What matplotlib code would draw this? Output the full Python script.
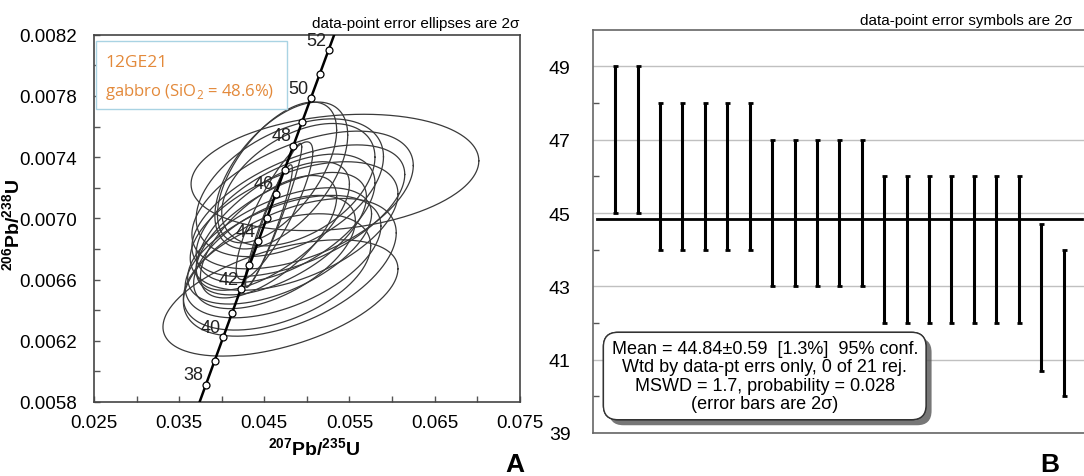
import numpy as np
import matplotlib
matplotlib.use("Agg")
import matplotlib.pyplot as plt
from matplotlib.patches import Rectangle
import matplotlib.patheffects as pe

plt.rcParams['font.family'] = ['Liberation Sans', 'DejaVu Sans']
plt.rcParams['mathtext.fontset'] = 'custom'
plt.rcParams['mathtext.rm'] = 'Open Sans'
plt.rcParams['mathtext.bf'] = 'Liberation Sans:bold'

# ---------------- Data: concordia ellipses (panel A) ----------------
# centre 207Pb/235U, centre 206Pb/238U, 2-sigma x, 2-sigma y, error correlation
ell_x = [0.0533, 0.0469, 0.0480, 0.0461, 0.0455, 0.0462, 0.0465, 0.0470, 0.0495, 0.0490, 0.0485,
         0.0480, 0.0475, 0.0470, 0.0468, 0.0472, 0.0460, 0.0455, 0.0462, 0.0490, 0.0465]
ell_y = [0.00730, 0.00648, 0.00668, 0.00702, 0.00695, 0.00705, 0.00730, 0.00728, 0.00712, 0.00705, 0.00695,
         0.00720, 0.00700, 0.00690, 0.00682, 0.00675, 0.00695, 0.00688, 0.00678, 0.00722, 0.00665]
ell_sx = [0.0169, 0.0138, 0.0125, 0.0033, 0.0028, 0.0045, 0.0070, 0.0078, 0.0130, 0.0125, 0.0122,
          0.0110, 0.0105, 0.0100, 0.0108, 0.0115, 0.0090, 0.0080, 0.0095, 0.0090, 0.0110]
ell_sy = [0.00038, 0.00038, 0.00045, 0.00047, 0.00040, 0.00045, 0.00046, 0.00048, 0.00045, 0.00043, 0.00042,
          0.00045, 0.00042, 0.00040, 0.00038, 0.00040, 0.00042, 0.00040, 0.00037, 0.00040, 0.00038]
ell_rho = [0.20, 0.50, 0.50, 0.95, 0.93, 0.85, 0.60, 0.55, 0.50, 0.55, 0.50,
           0.45, 0.55, 0.60, 0.55, 0.50, 0.65, 0.65, 0.55, 0.45, 0.45]

# concordia age marks (Ma) and labelled ages
conc_marks = [38, 39, 40, 41, 42, 43, 44, 45, 46, 47, 48, 49, 50, 51, 52]
conc_labels = [38, 40, 42, 44, 46, 48, 50, 52]
LAMBDA238 = 1.55125e-10
LAMBDA235 = 9.8485e-10

# ---------------- Data: weighted mean (panel B) ----------------
ages = [47, 47, 46, 46, 46, 46, 46, 45, 45, 45, 45, 45, 44, 44, 44, 44, 44, 44, 44, 42.7, 42]
age_err = [2, 2, 2, 2, 2, 2, 2, 2, 2, 2, 2, 2, 2, 2, 2, 2, 2, 2, 2, 2, 2]
mean_age = 44.84

W, H = 1084, 477
fig = plt.figure(figsize=(W / 100, H / 100), dpi=100)

def px_axes(l, t, r, b):
    return fig.add_axes([l / W, 1 - b / H, (r - l) / W, (b - t) / H])

# ================= Panel A =================
axA = px_axes(94, 35.7, 519.7, 403)
axA.set_xlim(0.025, 0.075)
axA.set_ylim(0.0058, 0.0082)

t = np.linspace(0, 2 * np.pi, 300)
for xc, yc, sx, sy, r in zip(ell_x, ell_y, ell_sx, ell_sy, ell_rho):
    ex = xc + sx * np.cos(t)
    ey = yc + sy * (r * np.cos(t) + np.sqrt(1 - r * r) * np.sin(t))
    axA.plot(ex, ey, color='#3a3a3a', lw=0.9, zorder=2)

ages_line = np.linspace(36, 54, 300) * 1e6
axA.plot(np.exp(LAMBDA235 * ages_line) - 1, np.exp(LAMBDA238 * ages_line) - 1,
         color='black', lw=1.8, zorder=3)
cm = np.array(conc_marks) * 1e6
axA.plot(np.exp(LAMBDA235 * cm) - 1, np.exp(LAMBDA238 * cm) - 1, 'o', ms=5,
         mfc='white', mec='black', mew=0.9, zorder=4)
for a in conc_labels:
    xa = np.exp(LAMBDA235 * a * 1e6) - 1
    ya = np.exp(LAMBDA238 * a * 1e6) - 1
    axA.annotate(str(a), (xa, ya), xytext=(-1.5, 1.0), textcoords='offset points',
                 ha='right', va='bottom', fontsize=13, color='#222', zorder=5)

axA.set_xticks(np.arange(0.025, 0.0751, 0.01))
axA.set_xticks(np.arange(0.030, 0.0751, 0.01), minor=True)
axA.set_yticks(np.arange(0.0058, 0.00821, 0.0004))
axA.set_yticks(np.arange(0.0060, 0.00821, 0.0004), minor=True)
axA.xaxis.set_major_formatter(matplotlib.ticker.FuncFormatter(lambda v, p: f"{v:.3f}"))
axA.yaxis.set_major_formatter(matplotlib.ticker.FuncFormatter(lambda v, p: f"{v:.4f}"))
axA.tick_params(which='both', direction='in', length=4, width=1, color='#555',
                labelsize=13.5, pad=9)
axA.tick_params(axis='y', pad=12)
for s in axA.spines.values():
    s.set_color('#444')
    s.set_linewidth(1.2)
axA.set_xlabel(r'$\mathbf{^{207}Pb/^{235}U}$', fontsize=14)
axA.set_ylabel(r'$\mathbf{^{206}Pb/^{238}U}$', fontsize=14)
axA.xaxis.set_label_coords(0.517, -0.093)
axA.yaxis.set_label_coords(-0.167, 0.485)
axA.text(1.0, 1.012, 'data-point error ellipses are 2σ', transform=axA.transAxes,
         ha='right', va='bottom', fontsize=11)

# label box
axA.add_patch(Rectangle((0.0047, 0.7977), 0.448, 0.186, transform=axA.transAxes,
                        fill=True, fc='white', ec='#a9d3e3', lw=1.0, zorder=6))
orange = '#E3893A'
axA.text(0.026, 0.926, '12GE21', transform=axA.transAxes, color=orange, fontsize=12.5,
         family='Open Sans', va='center', ha='left', zorder=7)
axA.text(0.026, 0.846, 'gabbro (SiO$_2$ = 48.6%)', transform=axA.transAxes, color=orange,
         fontsize=12, family='Open Sans', va='center', ha='left', zorder=7)

fig.text(515 / W, 1 - 465 / H, 'A', fontsize=19, fontweight='bold', ha='center', va='center')

# ================= Panel B =================
axB = px_axes(592.7, 30.7, 1086, 434)
xs = np.arange(1, len(ages) + 1)
axB.set_xlim(0, 22)
axB.set_ylim(39, 50)
axB.errorbar(xs, ages, yerr=age_err, fmt='none', ecolor='black', elinewidth=2.2,
             capsize=1.8, capthick=2.0, zorder=3)
axB.plot([0.2, 21.8], [mean_age, mean_age], color='black', lw=2.0, zorder=4)
axB.set_yticks([39, 41, 43, 45, 47, 49])
axB.set_yticks([40, 42, 44, 46, 48], minor=True)
axB.set_xticks([])
axB.yaxis.grid(True, which='major', color='#c0c0c0', lw=1.0, zorder=0)
axB.set_axisbelow(True)
axB.tick_params(axis='y', which='major', length=0, labelsize=14, pad=16)
axB.tick_params(axis='y', which='minor', direction='in', length=4, width=1, color='#555')
for s in axB.spines.values():
    s.set_color('#666')
    s.set_linewidth(1.2)
axB.text(1072 / W, 1 - 20.7 / H, 'data-point error symbols are 2σ', transform=fig.transFigure,
         ha='right', va='center', fontsize=11)

stats = ('Mean = 44.84±0.59  [1.3%]  95% conf.\n'
         'Wtd by data-pt errs only, 0 of 21 rej.\n'
         'MSWD = 1.7, probability = 0.028\n'
         '(error bars are 2σ)')
st = axB.text(0.3487, 0.1413, stats, transform=axB.transAxes, ha='center', va='center',
              fontsize=13, linespacing=1.08, zorder=6,
              bbox=dict(boxstyle='round,pad=0.45,rounding_size=0.8', fc='white', ec='#333', lw=1.0))
st.get_bbox_patch().set_path_effects([
    pe.withSimplePatchShadow(offset=(4, -4), shadow_rgbFace='#555555', alpha=0.8),
    pe.Normal()])

fig.text(1050 / W, 1 - 465 / H, 'B', fontsize=19, fontweight='bold', ha='center', va='center')

fig.savefig('out.png', dpi=100)
